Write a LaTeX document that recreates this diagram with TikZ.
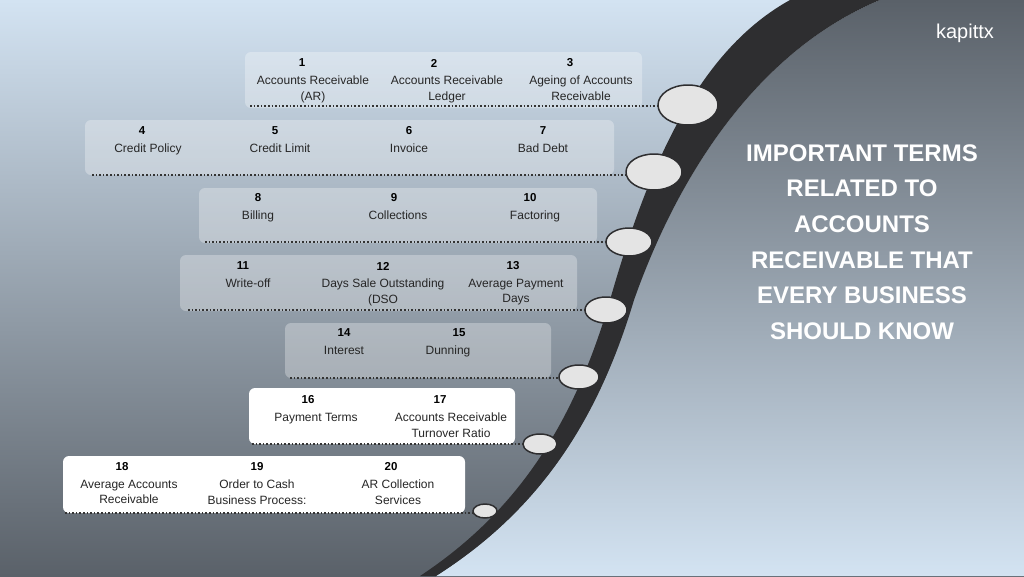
\documentclass[tikz,border=0pt]{standalone}
\usepackage{fontspec}
\setmainfont{Liberation Sans}
\usetikzlibrary{positioning,shapes.geometric}
\definecolor{skyblue}{HTML}{D3E3F2}
\definecolor{slate}{HTML}{5A6169}
\definecolor{band}{HTML}{2E2E30}
\definecolor{bead}{HTML}{E4E4E4}
\tikzset{
  termbox/.style={rounded corners=6pt, fill=white, fill opacity=0.3},
  solidbox/.style={rounded corners=6pt, fill=white},
  term/.style={align=center, font=\fontsize{12}{15.5}\selectfont, text=black!85},
  num/.style={font=\fontsize{11.5}{13}\selectfont\bfseries, text=black},
  beadnode/.style={ellipse, draw=band, line width=1.5pt, fill=bead, inner sep=0pt},
  dots/.style={dotted, line width=1.6pt, black!80},
}
\begin{document}
\begin{tikzpicture}[x=1pt,y=-1pt]
        \useasboundingbox (0,0) rectangle (1024,576);
        \shade[top color=skyblue, bottom color=slate] (0,0) rectangle (1024,576);
        % right side of the curve
        \shade[top color=slate, bottom color=skyblue] (880,0) .. controls (760,50) and (680,170) .. (634,300)
            .. controls (598,420) and (540,510) .. (436,576) -- (1024,576) -- (1024,0) -- cycle;
        \fill[band] (790,0) .. controls (700,50) and (650,160) .. (610,300)
            .. controls (575,420) and (520,510) .. (420,576) -- (436,576)
            .. controls (540,510) and (598,420) .. (634,300)
            .. controls (680,170) and (760,50) .. (880,0) -- cycle;

        \node[text=white, font=\fontsize{20}{20}\selectfont] (logo) at (965,33) {kapittx};
        \node[text=white, align=center, font=\fontsize{24}{35.6}\selectfont\bfseries] (title) at (862,242)
            {IMPORTANT TERMS\\RELATED TO\\ACCOUNTS\\RECEIVABLE THAT\\EVERY BUSINESS\\SHOULD KNOW};

        % boxes
        \fill[termbox] (245,52) rectangle (642,108);
        \fill[termbox] (85,120) rectangle (614,175);
        \fill[termbox] (199,188) rectangle (597,243);
        \fill[termbox] (180,255) rectangle (577,311);
        \fill[termbox] (285,323) rectangle (551,378);
        \fill[solidbox] (249,388) rectangle (515,444);
        \fill[solidbox] (63,456) rectangle (465,513);

        % beads on the band
        \node[beadnode, minimum width=60, minimum height=40] (b1) at (688,105) {};
        \node[beadnode, minimum width=56, minimum height=36] (b2) at (654,172) {};
        \node[beadnode, minimum width=46, minimum height=28] (b3) at (629,242) {};
        \node[beadnode, minimum width=42, minimum height=26] (b4) at (606,310) {};
        \node[beadnode, minimum width=40, minimum height=24] (b5) at (579,377) {};
        \node[beadnode, minimum width=34, minimum height=20] (b6) at (540,444) {};
        \node[beadnode, minimum width=24, minimum height=14] (b7) at (485,511) {};

        \coordinate (s1) at (250,106);
        \coordinate (s2) at (92,175);
        \coordinate (s3) at (205,242);
        \coordinate (s4) at (188,310);
        \coordinate (s5) at (290,378);
        \coordinate (s6) at (252,444);
        \coordinate (s7) at (65,513);
        \foreach \i in {1,...,7}
            \draw[dots] (s\i) -- (s\i -| b\i.west);

        % terms
        \node[num] (n1) at (302,63) {1};
        \node[term, below=-2 of n1, xshift=11] {Accounts Receivable\\(AR)};
        \node[num] (n2) at (434,63) {2};
        \node[term, below=-2 of n2, xshift=13] {Accounts Receivable\\Ledger};
        \node[num] (n3) at (570,63) {3};
        \node[term, below=-2 of n3, xshift=11] {Ageing of Accounts\\Receivable};

        \node[num] (n4) at (142,131) {4};
        \node[term, below=-2 of n4, xshift=6] {Credit Policy};
        \node[num] (n5) at (275,131) {5};
        \node[term, below=-2 of n5, xshift=5] {Credit Limit};
        \node[num] (n6) at (409,131) {6};
        \node[term, below=-2 of n6] {Invoice};
        \node[num] (n7) at (543,131) {7};
        \node[term, below=-2 of n7] {Bad Debt};

        \node[num] (n8) at (258,198) {8};
        \node[term, below=-2 of n8] {Billing};
        \node[num] (n9) at (394,198) {9};
        \node[term, below=-2 of n9, xshift=4] {Collections};
        \node[num] (n10) at (530,198) {10};
        \node[term, below=-2 of n10, xshift=5] {Factoring};

        \node[num] (n11) at (243,266) {11};
        \node[term, below=-2 of n11, xshift=5] {Write-off};
        \node[num] (n12) at (383,266) {12};
        \node[term, below=-2 of n12] {Days Sale Outstanding\\(DSO};
        \node[num] (n13) at (513,266) {13};
        \node[term, below=-2 of n13, xshift=3] {Average Payment\\Days};

        \node[num] (n14) at (344,333) {14};
        \node[term, below=-2 of n14] {Interest};
        \node[num] (n15) at (459,333) {15};
        \node[term, below=-2 of n15, xshift=-11] {Dunning};

        \node[num] (n16) at (308,400) {16};
        \node[term, below=-2 of n16, xshift=8] {Payment Terms};
        \node[num] (n17) at (440,400) {17};
        \node[term, below=-2 of n17, xshift=11] {Accounts Receivable\\Turnover Ratio};

        \node[num] (n18) at (122,467) {18};
        \node[term, below=-2 of n18, xshift=7] {Average Accounts\\Receivable};
        \node[num] (n19) at (257,467) {19};
        \node[term, below=-2 of n19] {Order to Cash\\Business Process:};
        \node[num] (n20) at (391,467) {20};
        \node[term, below=-2 of n20, xshift=7] {AR Collection\\Services};
\end{tikzpicture}
\end{document}
